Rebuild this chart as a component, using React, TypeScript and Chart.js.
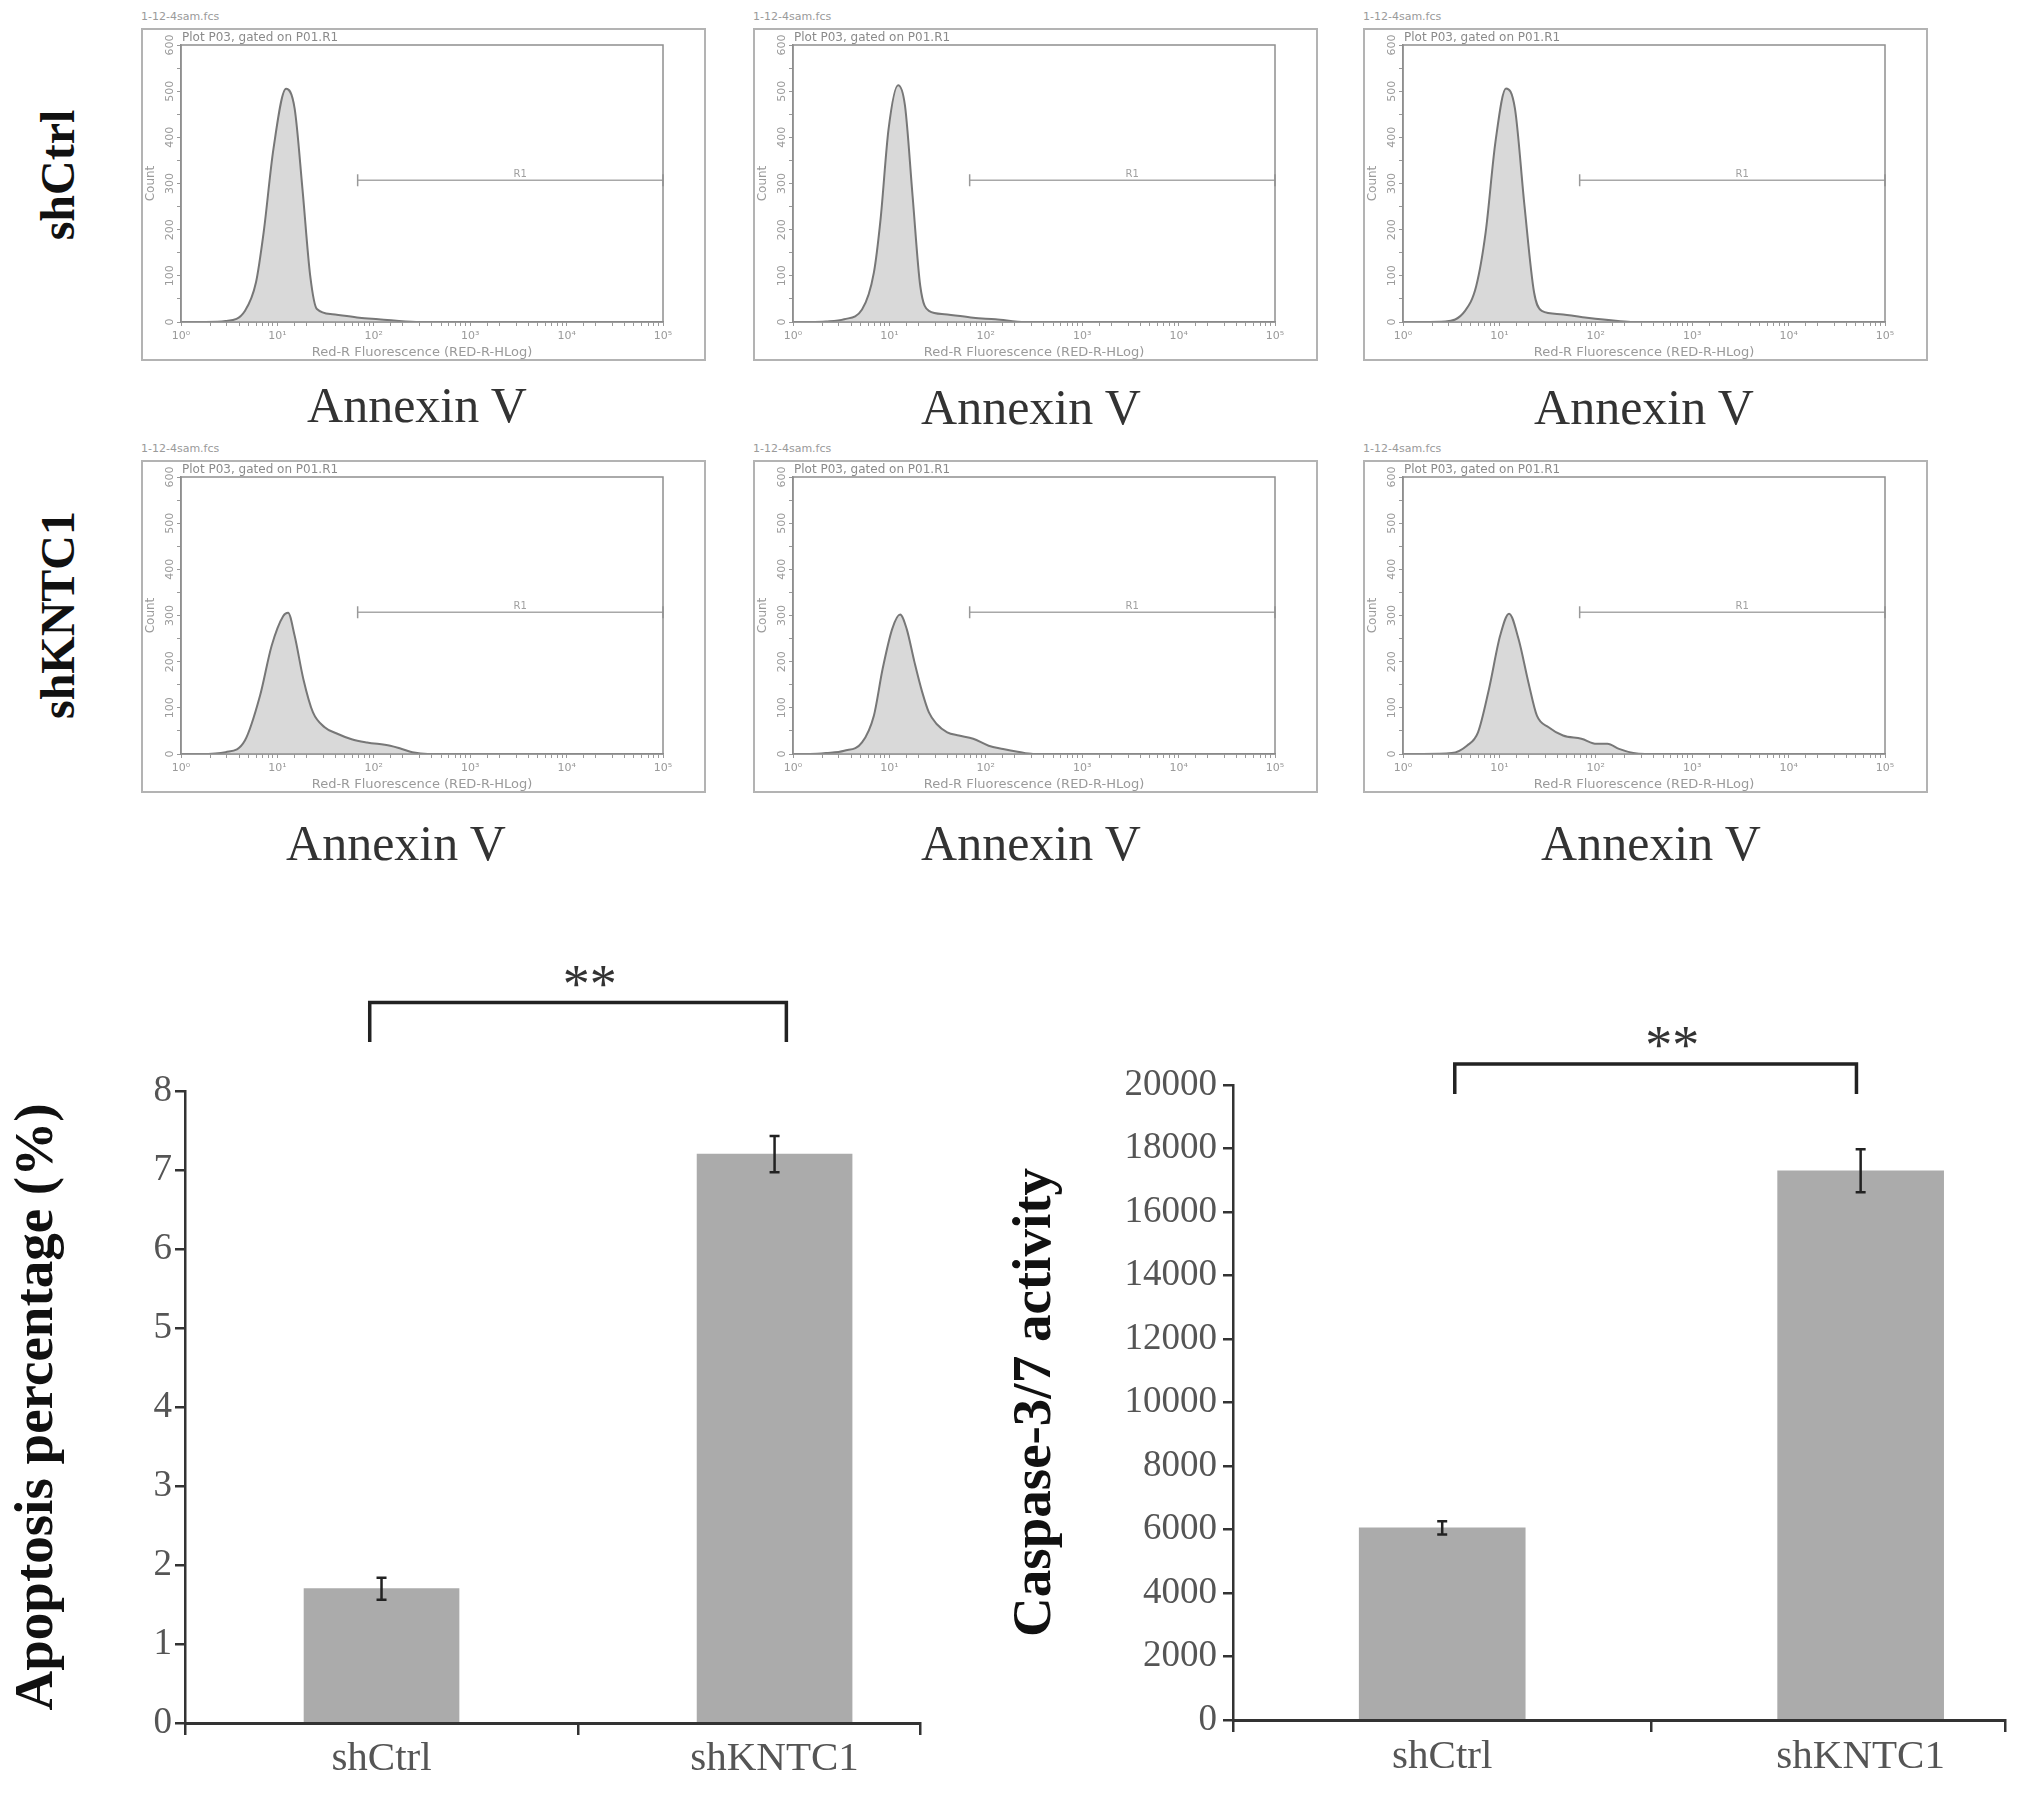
import React, { useEffect, useRef } from 'react';
import { Chart, registerables } from 'chart.js';

Chart.register(...registerables);

// ===================== DATA =====================
// Flow cytometry histograms: [Red-R fluorescence, cell count]
const shCtrlRep1: [number, number][] = [
  [1, 0], [1.8, 0], [2.9, 2], [4.6, 24], [6.0, 86], [7.2, 194], [9.1, 375], [12.3, 505], [15.1, 462],
  [18.2, 288], [21.9, 100], [25.7, 28], [37.2, 17], [70.8, 9], [112, 6], [275, 0], [100000, 0],
];
const shCtrlRep2: [number, number][] = [
  [1, 0], [1.5, 0], [2.2, 1], [3.4, 6], [5.2, 27], [6.9, 107], [8.1, 223], [9.8, 418], [12.3, 513],
  [14.5, 469], [17.4, 273], [20.9, 78], [25.7, 24], [37.2, 17], [74, 9], [126, 6], [257, 0], [100000, 0],
];
const shCtrlRep3: [number, number][] = [
  [1, 0], [1.6, 0], [2.75, 1], [4.4, 24], [5.75, 78], [7.2, 194], [9.1, 390], [11.7, 506], [14.5, 462],
  [18.2, 252], [22.9, 64], [27.5, 24], [42.7, 17], [81, 9], [170, 2], [245, 0], [100000, 0],
];
const shKNTC1Rep1: [number, number][] = [
  [1, 0], [1.6, 0], [2.9, 4], [4.6, 29], [6.6, 126], [8.7, 234], [11.5, 299], [12.9, 306], [15.1, 256],
  [18.6, 162], [23.4, 90], [30.9, 58], [40.7, 45], [58.9, 32], [85, 25], [148, 18], [195, 11], [251, 4],
  [363, 0], [100000, 0],
];
const shKNTC1Rep2: [number, number][] = [
  [1, 0], [1.5, 0], [2.2, 2], [3.4, 7], [5.2, 25], [6.9, 83], [8.5, 184], [10.7, 271], [12.9, 302],
  [15.1, 271], [18.2, 199], [21.9, 134], [25.7, 90], [30.9, 65], [39.8, 47], [52.5, 40], [74, 33],
  [107, 18], [151, 11], [214, 5], [309, 0], [100000, 0],
];
const shKNTC1Rep3: [number, number][] = [
  [1, 0], [1.6, 0], [3.2, 2], [4.6, 18], [6.0, 47], [7.8, 141], [10.2, 257], [12.6, 304], [15.8, 249],
  [20.0, 155], [24.5, 83], [32.4, 58], [45.7, 40], [70.8, 33], [102, 22], [132, 22], [174, 11], [245, 2],
  [324, 0], [100000, 0],
];

const rowLabels = ['shCtrl', 'shKNTC1'];
const fileName = '1-12-4sam.fcs';
const plotTitle = 'Plot P03, gated on P01.R1';
const flowXTitle = 'Red-R Fluorescence (RED-R-HLog)';
const flowYTitle = 'Count';
const flowCaption = 'Annexin V';
const fluorescenceRange = [1, 100000];
const countTicks = [0, 100, 200, 300, 400, 500, 600];
const gateRange = [68, 100000];
const gateLevel = [307];
const gateName = ['R1'];
const gateNameX = [3300];

// Bar charts
const groups = ['shCtrl', 'shKNTC1'];
const groupPositions = [0, 1];
const apoptosisMean = [1.7, 7.2];
const apoptosisErr = [0.14, 0.23];
const apoptosisAxis = [0, 8, 1]; // min, max, step
const apoptosisBracketY = [9.12, 8.62]; // bracket top, leg end
const apoptosisBracketX = [-0.03, 1.03];
const apoptosisStarX = [0.53];
const caspaseMean = [6050, 17300];
const caspaseErr = [210, 680];
const caspaseAxis = [0, 20000, 2000];
const caspaseBracketY = [20660, 19720];
const caspaseBracketX = [0.03, 0.99];
const caspaseStarX = [0.55];
const sigLabel = '**';
const apoptosisTitle = 'Apoptosis percentage (%)';
const caspaseTitle = 'Caspase-3/7 activity';

// ===================== STYLE =====================
const SERIF = '"Liberation Serif", "Times New Roman", serif';
const SANS = '"DejaVu Sans", Verdana, sans-serif';
const SUP: Record<number, string> = { 0: '\u2070', 1: '\u00B9', 2: '\u00B2', 3: '\u00B3', 4: '\u2074', 5: '\u2075' };

Chart.defaults.font.family = SANS;

const flowDecor = {
  id: 'flowDecor',
  afterDraw(chart: any) {
    const { ctx, chartArea: a, width, height } = chart;
    const xs = chart.scales.x;
    const ys = chart.scales.y;
    ctx.save();
    ctx.strokeStyle = '#b3b3b3';
    ctx.lineWidth = 2;
    ctx.strokeRect(1, 1, width - 2, height - 2);
    ctx.strokeStyle = '#8f8f8f';
    ctx.lineWidth = 1.5;
    ctx.strokeRect(a.left, a.top, a.right - a.left, a.bottom - a.top);
    // rotated count labels
    ctx.fillStyle = '#9a9a9a';
    ctx.font = `11px ${SANS}`;
    ctx.textAlign = 'center';
    ctx.textBaseline = 'middle';
    countTicks.forEach((v) => {
      ctx.save();
      ctx.translate(a.left - 11, ys.getPixelForValue(v));
      ctx.rotate(-Math.PI / 2);
      ctx.fillText(String(v), 0, 0);
      ctx.restore();
    });
    // plot title
    ctx.fillStyle = '#8a8a8a';
    ctx.font = `12px ${SANS}`;
    ctx.textAlign = 'left';
    ctx.fillText(plotTitle, a.left + 1, a.top - 7);
    // gate name
    ctx.font = `10px ${SANS}`;
    ctx.textAlign = 'center';
    ctx.textBaseline = 'bottom';
    ctx.fillStyle = '#a0a0a0';
    ctx.fillText(gateName[0], xs.getPixelForValue(gateNameX[0]), ys.getPixelForValue(gateLevel[0]) - 1);
    ctx.restore();
  },
};

function FlowPanel({ points, left, top }: { points: [number, number][]; left: number; top: number }) {
  const ref = useRef<HTMLCanvasElement>(null);
  useEffect(() => {
    const chart = new Chart(ref.current as HTMLCanvasElement, {
      type: 'line',
      data: {
        datasets: [
          {
            data: points.map(([x, y]) => ({ x, y })),
            fill: 'origin',
            backgroundColor: '#d9d9d9',
            borderColor: '#777',
            borderWidth: 2,
            pointRadius: 0,
            cubicInterpolationMode: 'monotone',
          } as any,
          {
            data: gateRange.map((x) => ({ x, y: gateLevel[0] })),
            borderColor: '#a8a8a8',
            borderWidth: 1.5,
            pointStyle: 'line',
            pointRotation: 90,
            pointRadius: 6,
            pointBorderColor: '#999',
            pointBorderWidth: 1.5,
            fill: false,
            clip: false,
          } as any,
        ],
      },
      options: {
        responsive: false,
        animation: false,
        devicePixelRatio: 1,
        layout: { padding: { left: 0, top: 17, right: 43, bottom: 0 } },
        plugins: { legend: { display: false }, tooltip: { enabled: false } },
        scales: {
          x: {
            type: 'logarithmic',
            min: fluorescenceRange[0],
            max: fluorescenceRange[1],
            afterFit: (s: any) => { s.height = 39; },
            border: { color: '#8f8f8f', width: 1.5 },
            grid: { drawOnChartArea: false, tickLength: 4, color: '#999' },
            ticks: {
              autoSkip: false,
              maxRotation: 0,
              minRotation: 0,
              padding: 4,
              color: '#9a9a9a',
              font: { size: 11, family: SANS },
              callback: (v: any) => {
                const n = Number(v);
                const e = Math.round(Math.log10(n));
                return Math.abs(n - Math.pow(10, e)) < 1e-6 * n ? '10' + SUP[e] : '';
              },
            },
            title: { display: true, text: flowXTitle, color: '#9a9a9a', font: { size: 13, family: SANS }, padding: { top: 0, bottom: 1 } },
          },
          y: {
            type: 'linear',
            min: countTicks[0],
            max: countTicks[countTicks.length - 1],
            afterFit: (s: any) => { s.width = 40; },
            border: { color: '#8f8f8f', width: 1.5 },
            grid: { drawOnChartArea: false, tickLength: 4, color: '#999' },
            ticks: { display: false, stepSize: 50 },
            title: { display: true, text: flowYTitle, color: '#9a9a9a', font: { size: 12, family: SANS }, padding: { top: 3, bottom: 0 } },
          },
        },
      } as any,
      plugins: [flowDecor],
    });
    return () => chart.destroy();
  }, []);
  return (
    <canvas ref={ref} width={565} height={333} style={{ position: 'absolute', left, top, width: 565, height: 333 }} />
  );
}

const barDecor = {
  id: 'barDecor',
  afterDatasetsDraw(chart: any, _args: any, opts: any) {
    const { ctx } = chart;
    const xs = chart.scales.x;
    const ys = chart.scales.y;
    const means: number[] = opts.means;
    const errs: number[] = opts.errors;
    ctx.save();
    ctx.strokeStyle = '#222';
    ctx.lineWidth = 2.5;
    means.forEach((m, i) => {
      const px = xs.getPixelForValue(groupPositions[i]);
      const t = ys.getPixelForValue(m + errs[i]);
      const b = ys.getPixelForValue(m - errs[i]);
      ctx.beginPath();
      ctx.moveTo(px, t); ctx.lineTo(px, b);
      ctx.moveTo(px - 5, t); ctx.lineTo(px + 5, t);
      ctx.moveTo(px - 5, b); ctx.lineTo(px + 5, b);
      ctx.stroke();
    });
    const bx: number[] = opts.bracketX;
    const by: number[] = opts.bracketY;
    const x0 = xs.getPixelForValue(bx[0]);
    const x1 = xs.getPixelForValue(bx[1]);
    const yt = ys.getPixelForValue(by[0]);
    const yl = ys.getPixelForValue(by[1]);
    ctx.lineWidth = 3.5;
    ctx.lineJoin = 'miter';
    ctx.beginPath();
    ctx.moveTo(x0, yl); ctx.lineTo(x0, yt); ctx.lineTo(x1, yt); ctx.lineTo(x1, yl);
    ctx.stroke();
    ctx.fillStyle = '#333';
    ctx.font = `54px ${SERIF}`;
    ctx.textAlign = 'center';
    ctx.textBaseline = 'alphabetic';
    ctx.fillText(sigLabel, xs.getPixelForValue(opts.starX[0]), yt - 1);
    ctx.restore();
  },
};

type BarProps = {
  left: number; top: number; width: number; height: number;
  means: number[]; errors: number[]; axis: number[]; yTitle: string; xMax: number;
  bracketX: number[]; bracketY: number[]; starX: number[];
  padTop: number; padRight: number; yWidth: number; xHeight: number;
  titlePad: number; yTickPad: number; xTickPad: number; barThickness: number;
};

function BarPanel(p: BarProps) {
  const ref = useRef<HTMLCanvasElement>(null);
  useEffect(() => {
    const xTickValues = [-0.5, 0, 0.5, 1, p.xMax];
    const chart = new Chart(ref.current as HTMLCanvasElement, {
      type: 'bar',
      data: {
        datasets: [
          {
            data: groupPositions.map((x, i) => ({ x, y: p.means[i] })),
            backgroundColor: '#ababab',
            borderWidth: 0,
            barThickness: p.barThickness,
          } as any,
        ],
      },
      options: {
        responsive: false,
        animation: false,
        devicePixelRatio: 1,
        layout: { padding: { left: 0, top: p.padTop, right: p.padRight, bottom: 0 } },
        plugins: {
          legend: { display: false },
          tooltip: { enabled: false },
          barDecor: { means: p.means, errors: p.errors, bracketX: p.bracketX, bracketY: p.bracketY, starX: p.starX },
        },
        scales: {
          x: {
            type: 'linear',
            min: -0.5,
            max: p.xMax,
            offset: false,
            afterFit: (s: any) => { s.height = p.xHeight; },
            afterBuildTicks: (s: any) => { s.ticks = xTickValues.map((v) => ({ value: v })); },
            border: { color: '#333', width: 3 },
            grid: {
              offset: false,
              drawOnChartArea: false,
              tickLength: 12,
              lineWidth: 2.5,
              color: '#333',
              tickColor: (c: any) => (c.tick && Number.isInteger(c.tick.value) ? 'rgba(0,0,0,0)' : '#333'),
            },
            ticks: {
              autoSkip: false,
              maxRotation: 0,
              padding: p.xTickPad,
              color: '#555',
              font: { size: 41, family: SERIF },
              callback: (v: any) => {
                const i = groupPositions.indexOf(Number(v));
                return i >= 0 ? groups[i] : '';
              },
            },
          },
          y: {
            type: 'linear',
            min: p.axis[0],
            max: p.axis[1],
            afterFit: (s: any) => { s.width = p.yWidth; },
            border: { color: '#333', width: 2.5 },
            grid: { drawOnChartArea: false, tickLength: 10, lineWidth: 2.5, color: '#333' },
            ticks: {
              stepSize: p.axis[2],
              padding: p.yTickPad,
              color: '#555',
              font: { size: 37, family: SERIF },
              callback: (v: any) => String(v),
            },
            title: {
              display: true,
              text: p.yTitle,
              color: '#111',
              font: { size: 55, family: SERIF, weight: 'bold' },
              padding: { top: p.titlePad, bottom: 0 },
            },
          },
        },
      } as any,
      plugins: [barDecor],
    });
    return () => chart.destroy();
  }, []);
  return (
    <canvas
      ref={ref}
      width={p.width}
      height={p.height}
      style={{ position: 'absolute', left: p.left, top: p.top, width: p.width, height: p.height }}
    />
  );
}

const flowPanels = [
  { points: shCtrlRep1, left: 141, top: 28, cx: 417, cy: 405 },
  { points: shCtrlRep2, left: 753, top: 28, cx: 1031, cy: 407 },
  { points: shCtrlRep3, left: 1363, top: 28, cx: 1644, cy: 407 },
  { points: shKNTC1Rep1, left: 141, top: 460, cx: 396, cy: 843 },
  { points: shKNTC1Rep2, left: 753, top: 460, cx: 1031, cy: 843 },
  { points: shKNTC1Rep3, left: 1363, top: 460, cx: 1651, cy: 843 },
];
const rowLabelCenters = [[58, 175], [58, 615]];

export default function App() {
  return (
    <div style={{ position: 'absolute', left: 0, top: 0, width: 2031, height: 1806, overflow: 'hidden', background: '#fff' }}>
      {rowLabels.map((t, i) => (
        <div
          key={t}
          style={{
            position: 'absolute', left: rowLabelCenters[i][0], top: rowLabelCenters[i][1],
            transform: 'translate(-50%, -50%) rotate(-90deg)', whiteSpace: 'nowrap',
            font: `bold 48px ${SERIF}`, lineHeight: 1, color: '#111',
          }}
        >
          {t}
        </div>
      ))}
      {flowPanels.map((f, i) => (
        <React.Fragment key={i}>
          <div
            style={{
              position: 'absolute', left: f.left, top: f.top - 18, font: `11px ${SANS}`, lineHeight: '14px',
              color: '#9a9a9a', whiteSpace: 'nowrap',
            }}
          >
            {fileName}
          </div>
          <FlowPanel points={f.points} left={f.left} top={f.top} />
          <div
            style={{
              position: 'absolute', left: f.cx, top: f.cy, transform: 'translate(-50%, -50%)',
              font: `50px ${SERIF}`, lineHeight: 1, color: '#333', whiteSpace: 'nowrap',
            }}
          >
            {flowCaption}
          </div>
        </React.Fragment>
      ))}
      <BarPanel
        left={0} top={940} width={1000} height={866}
        means={apoptosisMean} errors={apoptosisErr} axis={apoptosisAxis} yTitle={apoptosisTitle} xMax={1.37}
        bracketX={apoptosisBracketX} bracketY={apoptosisBracketY} starX={apoptosisStarX}
        padTop={151} padRight={80} yWidth={185} xHeight={83}
        titlePad={5} yTickPad={3} xTickPad={0} barThickness={155}
      />
      <BarPanel
        left={1000} top={940} width={1031} height={866}
        means={caspaseMean} errors={caspaseErr} axis={caspaseAxis} yTitle={caspaseTitle} xMax={1.345}
        bracketX={caspaseBracketX} bracketY={caspaseBracketY} starX={caspaseStarX}
        padTop={145} padRight={26} yWidth={233} xHeight={86}
        titlePad={3} yTickPad={6} xTickPad={1} barThickness={166}
      />
    </div>
  );
}
